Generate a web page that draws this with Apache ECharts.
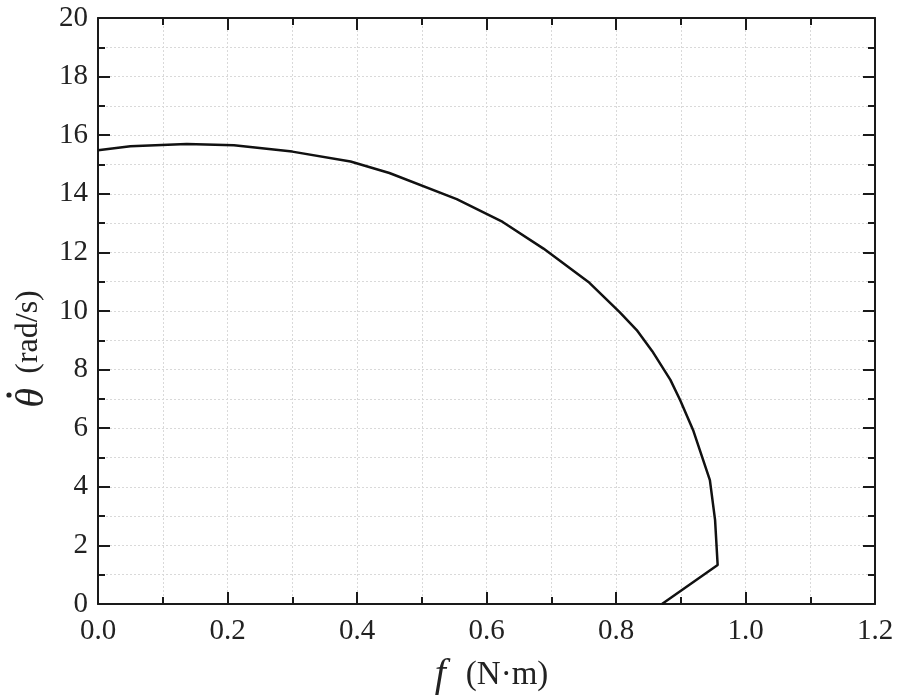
<!DOCTYPE html>
<html>
<head>
<meta charset="utf-8">
<script src="https://cdn.jsdelivr.net/npm/echarts@6/dist/echarts.min.js"></script>
<style>html,body{margin:0;padding:0;background:#fff;}#c{width:898px;height:700px;}</style>
</head>
<body>
<div id="c"></div>
<script>
const fValues = [0, 0.05, 0.137, 0.21, 0.30, 0.39, 0.45, 0.554, 0.625, 0.688, 0.759, 0.806, 0.832, 0.856, 0.884, 0.899, 0.919, 0.945, 0.953, 0.957, 0.871];
const thetaDotValues = [15.49, 15.62, 15.70, 15.66, 15.44, 15.10, 14.71, 13.82, 13.04, 12.13, 10.96, 9.95, 9.35, 8.63, 7.65, 6.96, 5.94, 4.23, 2.87, 1.33, 0];
const xTicks = [0, 0.2, 0.4, 0.6, 0.8, 1.0, 1.2];
const yTicks = [0, 2, 4, 6, 8, 10, 12, 14, 16, 18, 20];
const xTitle = ['f', '(N·m)'];
const yTitle = ['θ', '(rad/s)'];

const serif = 'Liberation Serif';
const gridLine = { show: true, lineStyle: { color: '#d9d9d9', type: [2, 2], width: 1 } };
const axisLine = { show: true, onZero: false, lineStyle: { color: '#1a1a1a', width: 2 } };
const tick = { show: true, inside: true, length: 12, lineStyle: { color: '#1a1a1a', width: 2 } };
const minorTick = { show: true, splitNumber: 2, length: 7, lineStyle: { color: '#1a1a1a', width: 2 } };

const chart = echarts.init(document.getElementById('c'));
chart.setOption({
  backgroundColor: '#fff',
  animation: false,
  textStyle: { fontFamily: serif },
  grid: { left: 98, right: 23, top: 18, bottom: 96, containLabel: false, outerBoundsMode: 'none' },
  xAxis: [{
    type: 'value', position: 'bottom',
    min: xTicks[0], max: xTicks[xTicks.length - 1], interval: 0.2,
    axisLine: axisLine, axisTick: tick, minorTick: minorTick,
    splitLine: gridLine, minorSplitLine: gridLine,
    axisLabel: { margin: 13, color: '#222', fontFamily: serif, fontSize: 29, formatter: v => v.toFixed(1) },
    name: '{f|' + xTitle[0] + '}{u|' + xTitle[1] + '}', nameLocation: 'middle', nameGap: 51,
    nameTextStyle: { padding: [0, 0, 0, 10], rich: {
      f: { fontFamily: serif, fontStyle: 'italic', fontSize: 40, color: '#222', lineHeight: 40, verticalAlign: 'middle', padding: [0, 20, 0, 0] },
      u: { fontFamily: serif, fontSize: 33, color: '#222', lineHeight: 40, verticalAlign: 'middle' }
    } }
  }, {
    type: 'value', position: 'top',
    min: xTicks[0], max: xTicks[xTicks.length - 1], interval: 0.2,
    axisLine: axisLine, axisTick: tick, minorTick: minorTick,
    splitLine: { show: false }, axisLabel: { show: false }
  }],
  yAxis: [{
    type: 'value', position: 'left',
    min: yTicks[0], max: yTicks[yTicks.length - 1], interval: 2,
    axisLine: axisLine, axisTick: tick, minorTick: minorTick,
    splitLine: gridLine, minorSplitLine: gridLine,
    axisLabel: { margin: 10, color: '#222', fontFamily: serif, fontSize: 29 }
  }, {
    type: 'value', position: 'right',
    min: yTicks[0], max: yTicks[yTicks.length - 1], interval: 2,
    axisLine: axisLine, axisTick: tick, minorTick: minorTick,
    splitLine: { show: false }, axisLabel: { show: false }
  }],
  graphic: [{
    type: 'group', x: 28, y: 352, rotation: Math.PI / 2,
    children: [
      { type: 'text', x: -46, y: 4, style: { text: yTitle[0], font: 'italic 40px "Liberation Serif"', fill: '#222', align: 'center', verticalAlign: 'middle' } },
      { type: 'circle', shape: { cx: -43, cy: -19, r: 2.6 }, style: { fill: '#222' } },
      { type: 'text', x: 20, y: 1, style: { text: yTitle[1], font: '32px "Liberation Serif"', fill: '#222', align: 'center', verticalAlign: 'middle' } }
    ]
  }],
  series: [{
    type: 'line',
    xAxisIndex: 0, yAxisIndex: 0,
    data: fValues.map((f, i) => [f, thetaDotValues[i]]),
    showSymbol: false, symbol: 'none',
    lineStyle: { color: '#111', width: 2.5 },
    smooth: false
  }]
});
</script>
</body>
</html>
